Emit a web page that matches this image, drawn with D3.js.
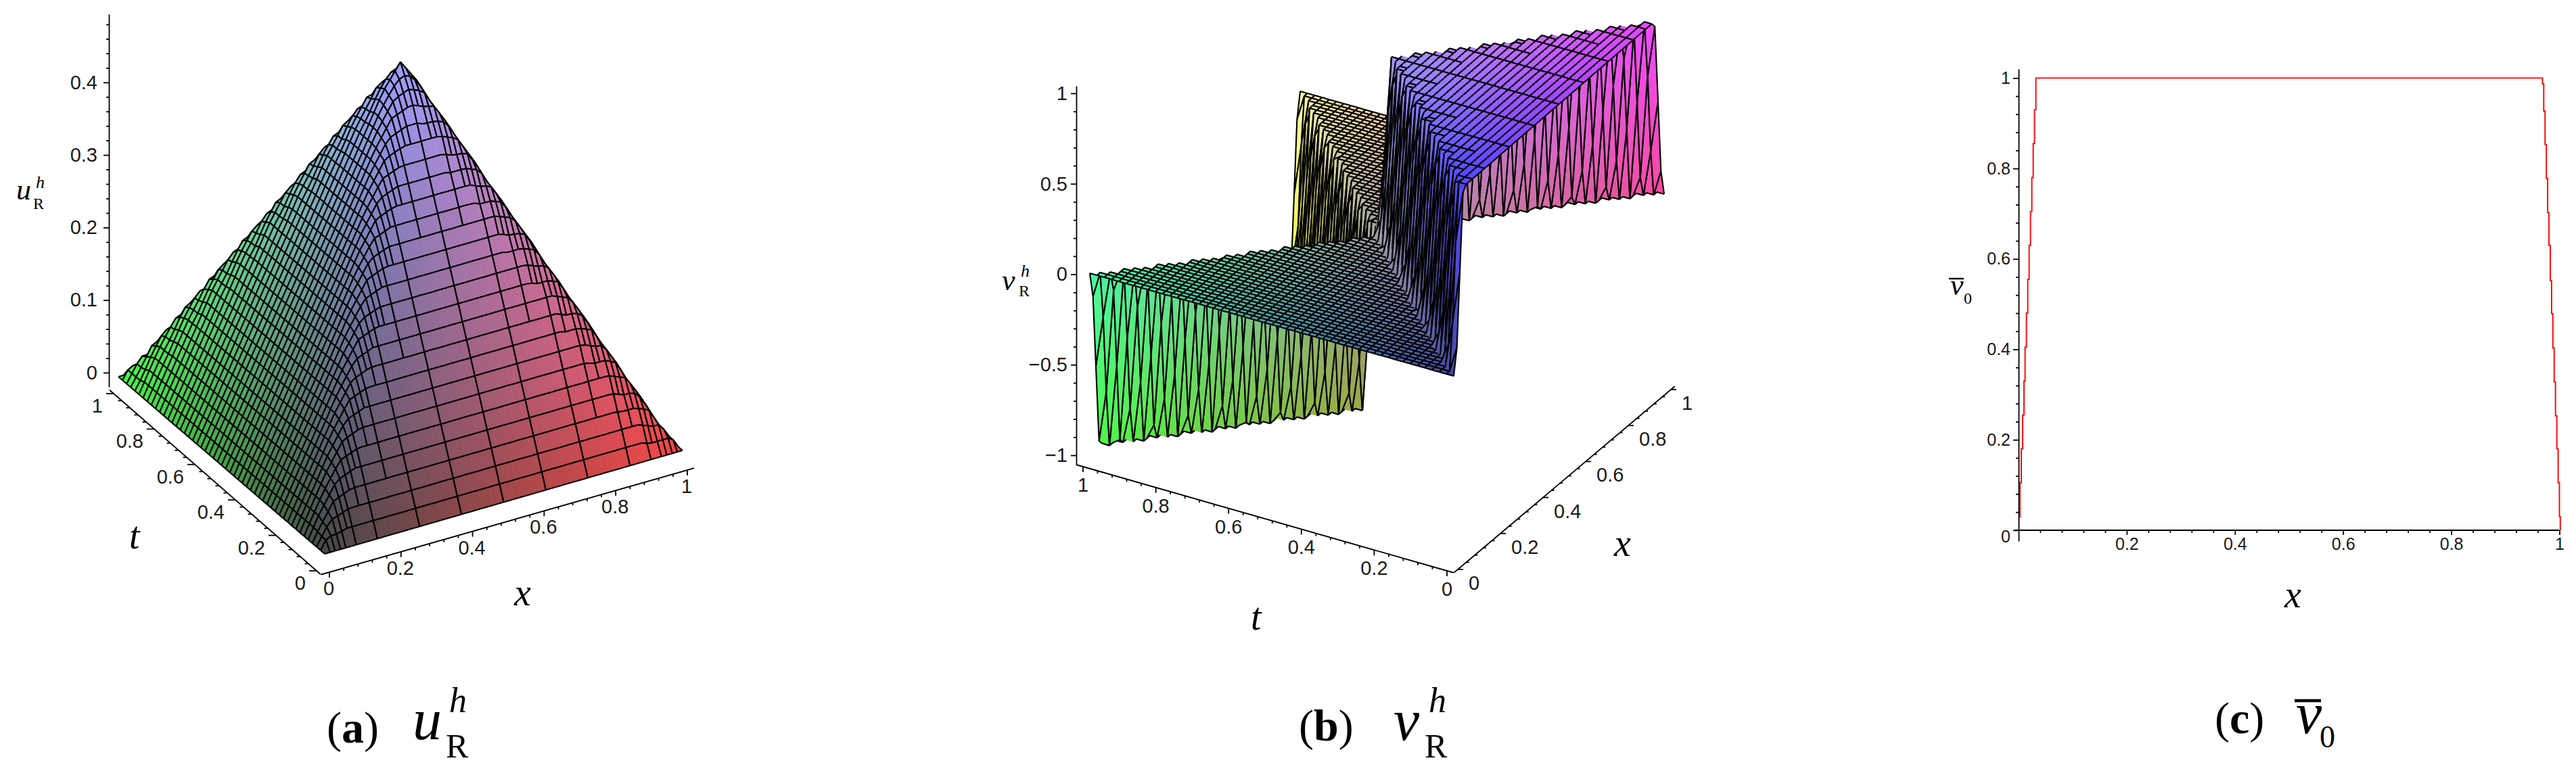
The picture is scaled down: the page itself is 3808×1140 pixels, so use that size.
<!DOCTYPE html>
<html>
<head>
<meta charset="utf-8">
<script src="https://d3js.org/d3.v7.min.js"></script>
<style>
  body { margin: 0; background: #fff; }
  svg { display: block; }
  .num { font-family: "Liberation Sans", sans-serif; font-size: 29px; fill: #1a1a1a; }
  .math { font-family: "Liberation Serif", serif; font-style: italic; fill: #000; }
  .rom { font-family: "Liberation Serif", serif; fill: #000; }
  .tick line, .domain { stroke: #000; stroke-width: 1.8; }
  .tick text { font-family: "Liberation Sans", sans-serif; font-size: 29px; fill: #1a1a1a; }
</style>
</head>
<body>
<svg id="fig" width="3808" height="1140"></svg>
<script>
// mesh levels shared by both surfaces
var xLevels = [0,.015,.029,.044,.059,.074,.088,.103,.118,.132,.147,.162,.176,.191,.206,.221,.235,.25,.265,.279,.294,.309,.324,.338,.353,.368,.382,.397,.412,.426,.441,.456,.471,.485,.5,.515,.529,.544,.559,.574,.588,.603,.618,.632,.647,.662,.676,.691,.706,.721,.735,.75,.765,.779,.794,.809,.824,.838,.853,.868,.882,.897,.912,.926,.941,.956,.971,.985,1];
var tLevels = [0,.02,.04,.06,.08,.1,.12,.14,.16,.18,.2,.22,.24,.26,.28,.3,.32,.34,.36,.38,.4,.42,.44,.46,.48,.5,.52,.54,.56,.58,.6,.62,.64,.66,.68,.7,.72,.74,.76,.78,.8,.82,.84,.86,.88,.9,.92,.94,.96,.98,1];

var uNodes = [0,.05,.1,.15,.2,.25,.3,.35,.4,.45,.5,.55,.6,.65,.7,.75,.8,.85,.9,.95,1];
var uRows = [
  [0,0,0,0,0,0,0,0,0,0,0,0,0,0,0,0,0,0,0,0,0],
  [0,.04,.05,.05,.05,.05,.05,.05,.05,.05,.05,.05,.05,.05,.05,.05,.05,.05,.05,.04,0],
  [0,.05,.09,.10,.10,.10,.10,.10,.10,.10,.10,.10,.10,.10,.10,.10,.10,.10,.09,.05,0],
  [0,.05,.10,.14,.15,.15,.15,.15,.15,.15,.15,.15,.15,.15,.15,.15,.15,.14,.10,.05,0],
  [0,.05,.10,.15,.19,.20,.20,.20,.20,.20,.20,.20,.20,.20,.20,.20,.19,.15,.10,.05,0],
  [0,.05,.10,.15,.20,.24,.25,.25,.25,.25,.25,.25,.25,.25,.25,.24,.20,.15,.10,.05,0],
  [0,.05,.10,.15,.20,.25,.29,.30,.30,.30,.30,.30,.30,.30,.29,.25,.20,.15,.10,.05,0],
  [0,.05,.10,.15,.20,.25,.30,.34,.35,.35,.35,.35,.35,.34,.30,.25,.20,.15,.10,.05,0],
  [0,.05,.10,.15,.20,.25,.30,.35,.39,.40,.40,.40,.39,.35,.30,.25,.20,.15,.10,.05,0],
  [0,.05,.10,.15,.20,.25,.30,.35,.40,.44,.45,.44,.40,.35,.30,.25,.20,.15,.10,.05,0],
  [0,.05,.10,.15,.20,.25,.30,.35,.40,.45,.485,.45,.40,.35,.30,.25,.20,.15,.10,.05,0],
  [0,.05,.10,.15,.20,.25,.30,.35,.40,.44,.45,.44,.40,.35,.30,.25,.20,.15,.10,.05,0],
  [0,.05,.10,.15,.20,.25,.30,.35,.39,.40,.40,.40,.39,.35,.30,.25,.20,.15,.10,.05,0],
  [0,.05,.10,.15,.20,.25,.30,.34,.35,.35,.35,.35,.35,.34,.30,.25,.20,.15,.10,.05,0],
  [0,.05,.10,.15,.20,.25,.29,.30,.30,.30,.30,.30,.30,.30,.29,.25,.20,.15,.10,.05,0],
  [0,.05,.10,.15,.20,.24,.25,.25,.25,.25,.25,.25,.25,.25,.25,.24,.20,.15,.10,.05,0],
  [0,.05,.10,.15,.19,.20,.20,.20,.20,.20,.20,.20,.20,.20,.20,.20,.19,.15,.10,.05,0],
  [0,.05,.10,.14,.15,.15,.15,.15,.15,.15,.15,.15,.15,.15,.15,.15,.15,.14,.10,.05,0],
  [0,.05,.09,.10,.10,.10,.10,.10,.10,.10,.10,.10,.10,.10,.10,.10,.10,.10,.09,.05,0],
  [0,.04,.05,.05,.05,.05,.05,.05,.05,.05,.05,.05,.05,.05,.05,.05,.05,.05,.05,.04,0],
  [0,0,0,0,0,0,0,0,0,0,0,0,0,0,0,0,0,0,0,0,0]
];

// panel b: v on each t level, the middle stretch of x sits at vMid, the rest at 0
var vMid = [1,1,1,1,1,1,1,1,1,1,1,1,1,1,1,1,1,1,1,1,1,1,1,1,.75,0,-.75,-1,-1,-1,-1,-1,-1,-1,-1,-1,-1,-1,-1,-1,-1,-1,-1,-1,-1,-1,-1,-1,-1,-1,-1];
var jumpL = [.01,.02,.04,.06,.08,.1,.12,.14,.16,.18,.2,.22,.24,.26,.28,.3,.32,.34,.36,.38,.4,.42,.44,.46,.48,.5,.48,.46,.44,.42,.4,.38,.36,.34,.32,.3,.28,.26,.24,.22,.2,.18,.16,.14,.12,.1,.08,.06,.04,.02,.01];
var jumpR = [.99,.98,.96,.94,.92,.9,.88,.86,.84,.82,.8,.78,.76,.74,.72,.7,.68,.66,.64,.62,.6,.58,.56,.54,.52,.5,.52,.54,.56,.58,.6,.62,.64,.66,.68,.7,.72,.74,.76,.78,.8,.82,.84,.86,.88,.9,.92,.94,.96,.98,.99];
var jumpRise = [0, .035];

// panel c: the line, stair by stair
var lineX = [.0025,.005,.0075,.01,.012,.0145,.017,.0195,.022,.0245,.027,.0295,.032,.9686,.971,.9734,.9758,.9782,.9807,.9831,.9855,.9879,.9903,.9927,.9952,.9976,1,1.0016,1.0016];
var lineY = [.028,.105,.18,.255,.33,.405,.48,.555,.63,.705,.78,.855,.93,1,.987,.927,.853,.778,.702,.63,.552,.479,.403,.328,.253,.18,.105,.03,0];

// ticks
var unitTicks = [0,.2,.4,.6,.8,1];
var unitMinor = [.04,.08,.12,.16,.24,.28,.32,.36,.44,.48,.52,.56,.64,.68,.72,.76,.84,.88,.92,.96];
var uTicks = [0,.1,.2,.3,.4];
var uMinor = [.02,.04,.06,.08,.12,.14,.16,.18,.22,.24,.26,.28,.32,.34,.36,.38,.42,.44,.46,.48];
var vTicks = [-1,-.5,0,.5,1];
var vMinor = [-.9,-.8,-.7,-.6,-.4,-.3,-.2,-.1,.1,.2,.3,.4,.6,.7,.8,.9];

var svg = d3.select("#fig");
svg.append("rect").attr("width", 3808).attr("height", 1140).attr("fill", "#fff");

function colorScales(zDomain) {
  var r = d3.scaleLinear([0, 1], [70, 248]);
  var g = d3.scaleLinear([0, 1], [70, 248]);
  var b = d3.scaleLinear(zDomain, [70, 255]).clamp(true);
  return function (x, t, z) {
    return d3.rgb(r(x), g(t), b(z)).formatHex();
  };
}

// x lines on the bottom and top sheets thin out away from the creases
function xLineShown(i, j) {
  var x = xLevels[i];
  var t = (tLevels[j] + tLevels[j + 1]) / 2;
  var s = Math.min(t, 1 - t);
  if (x < s || x > 1 - s) return true;
  var d = Math.min(x - s, 1 - s - x);
  var k = Math.abs(i - 34);
  var step = d < .05 ? 1 : d < .07 ? 2 : d < .146 ? 4 : 8;
  return k % step === 0 || i === 0 || i === xLevels.length - 1;
}

function drawSurface(g, proj, z, color, depth) {
  var cells = [];
  for (var j = 0; j < tLevels.length - 1; j++) {
    for (var i = 0; i < xLevels.length - 1; i++) {
      cells.push({ i: i, j: j, key: depth[0] * (xLevels[i] + xLevels[i + 1]) + depth[1] * (tLevels[j] + tLevels[j + 1]) });
    }
  }
  cells.sort(function (a, b) { return b.key - a.key; });

  var items = [];
  cells.forEach(function (c) {
    var i = c.i, j = c.j;
    var x0 = xLevels[i], x1 = xLevels[i + 1], t0 = tLevels[j], t1 = tLevels[j + 1];
    var z00 = z[j][i], z10 = z[j][i + 1], z01 = z[j + 1][i], z11 = z[j + 1][i + 1];
    var span = d3.max([z00, z10, z01, z11]) - d3.min([z00, z10, z01, z11]);
    var n = span > .2 ? 5 : 1;
    for (var a = 0; a < n; a++) {
      for (var b = 0; b < n; b++) {
        var pts = [[a, b], [a + 1, b], [a + 1, b + 1], [a, b + 1]].map(function (p) {
          var u = p[0] / n, w = p[1] / n;
          return [x0 + (x1 - x0) * u, t0 + (t1 - t0) * w,
            z00 * (1 - u) * (1 - w) + z10 * u * (1 - w) + z01 * (1 - u) * w + z11 * u * w];
        });
        var fill = color(d3.mean(pts, function (p) { return p[0]; }), d3.mean(pts, function (p) { return p[1]; }), d3.mean(pts, function (p) { return p[2]; }));
        items.push({ d: "M" + pts.map(function (p) { return proj(p[0], p[1], p[2]).join(","); }).join("L") + "Z", fill: fill, stroke: fill, w: .7 });
      }
    }
    var p00 = proj(x0, t0, z00).join(","), p10 = proj(x1, t0, z10).join(","), p01 = proj(x0, t1, z01).join(","), p11 = proj(x1, t1, z11).join(",");
    var d = "M" + p00 + "L" + p10 + "M" + p01 + "L" + p11;
    if (xLineShown(i, j)) d += "M" + p00 + "L" + p01;
    if (xLineShown(i + 1, j)) d += "M" + p10 + "L" + p11;
    items.push({ d: d, fill: "none", stroke: "#000", w: 2.1 });
  });

  g.selectAll("path").data(items).join("path")
    .attr("d", function (d) { return d.d; })
    .attr("fill", function (d) { return d.fill; })
    .attr("stroke", function (d) { return d.stroke; })
    .attr("stroke-width", function (d) { return d.w; });
}

// slanted axis of a 3d box
function slantAxis(g, sx, sy, ends, majors, minors, tick, labels) {
  g.append("line").attr("x1", sx(ends[0])).attr("y1", sy(ends[0])).attr("x2", sx(ends[1])).attr("y2", sy(ends[1]))
    .attr("stroke", "#000").attr("stroke-width", 1.9);
  g.selectAll(".minor").data(minors).join("line").attr("class", "minor")
    .attr("x1", sx).attr("y1", sy)
    .attr("x2", function (d) { return sx(d) + tick[0] * .5; })
    .attr("y2", function (d) { return sy(d) + tick[1] * .5; })
    .attr("stroke", "#000").attr("stroke-width", 1.8);
  g.selectAll(".major").data(majors).join("line").attr("class", "major")
    .attr("x1", sx).attr("y1", sy)
    .attr("x2", function (d) { return sx(d) + tick[0]; })
    .attr("y2", function (d) { return sy(d) + tick[1]; })
    .attr("stroke", "#000").attr("stroke-width", 1.8);
  g.selectAll(".num").data(majors).join("text").attr("class", "num")
    .attr("x", function (d) { return sx(d) + labels.dx; })
    .attr("y", function (d) { return sy(d) + labels.dy; })
    .attr("text-anchor", labels.anchor)
    .text(function (d) { return d3.format("~g")(d); });
}

function leftAxis(g, scale, x, majors, minors, padding) {
  var axis = g.append("g").attr("transform", "translate(" + x + ",0)");
  axis.call(d3.axisLeft(scale).tickValues(majors).tickSize(8).tickSizeOuter(0).tickPadding(padding)
    .tickFormat(function (d) { return d3.format("~g")(d).replace("-", "\u2212"); }));
  var small = g.append("g").attr("transform", "translate(" + x + ",0)");
  small.call(d3.axisLeft(scale).tickValues(minors).tickSize(4).tickSizeOuter(0).tickFormat(""));
  small.select(".domain").remove();
  return axis;
}

function mathText(g, x, y, size, s, cls) {
  return g.append("text").attr("class", cls || "math").attr("x", x).attr("y", y).attr("font-size", size).text(s);
}

function caption(g, x, y, letter) {
  var c = g.append("text").attr("class", "rom").attr("x", x).attr("y", y).attr("font-size", 66);
  c.append("tspan").text("(");
  c.append("tspan").attr("font-weight", "bold").text(letter);
  c.append("tspan").text(")");
}

// ---------- panel a
var aXx = d3.scaleLinear([0, 1], [480, 1009]), aTx = d3.scaleLinear([0, 1], [0, -305]);
var aXy = d3.scaleLinear([0, 1], [819, 666]), aTy = d3.scaleLinear([0, 1], [0, -262]);
var aZy = d3.scaleLinear([0, .5], [0, -536]);
function projA(x, t, z) {
  return [+(aXx(x) + aTx(t)).toFixed(1), +(aXy(x) + aTy(t) + aZy(z)).toFixed(1)];
}

// look up the table inside one triangle of its cell, so the creases stay straight
function uAt(x, t) {
  var i = Math.min(d3.bisectRight(uNodes, x) - 1, uNodes.length - 2);
  var j = Math.min(d3.bisectRight(uNodes, t) - 1, uNodes.length - 2);
  var a = (x - uNodes[i]) / (uNodes[i + 1] - uNodes[i]);
  var b = (t - uNodes[j]) / (uNodes[j + 1] - uNodes[j]);
  var u00 = uRows[j][i], u10 = uRows[j][i + 1], u01 = uRows[j + 1][i], u11 = uRows[j + 1][i + 1];
  if (i + j === uNodes.length - 2) {
    if (a + b < 1) return u00 + a * (u10 - u00) + b * (u01 - u00);
    return u11 + (1 - a) * (u01 - u11) + (1 - b) * (u10 - u11);
  }
  if (a > b) return u00 + a * (u10 - u00) + b * (u11 - u10);
  return u00 + b * (u01 - u00) + a * (u11 - u01);
}
var uMesh = tLevels.map(function (t) {
  return xLevels.map(function (x) { return uAt(x, t); });
});

var a = svg.append("g").attr("id", "panel-a");
drawSurface(a.append("g"), projA, uMesh, colorScales([0, .49]), [153, 262]);

var azScale = d3.scaleLinear([-.0196, .494], [572, 21]);
leftAxis(a, azScale, 161, uTicks, uMinor, 9);
slantAxis(a.append("g"), d3.scaleLinear([0, 1], [468, 168]), d3.scaleLinear([0, 1], [844, 582]), [-.02, 1.02], unitTicks, unitMinor, [-11, 0], { dx: -16, dy: 28, anchor: "end" });
slantAxis(a.append("g"), d3.scaleLinear([0, 1], [487, 1016]), d3.scaleLinear([0, 1], [846, 695]), [-.023, 1.019], unitTicks, unitMinor, [0, 8], { dx: -1, dy: 34, anchor: "middle" });

mathText(a, 191, 811, 56, "t");
mathText(a, 760, 895, 56, "x");
mathText(a, 24, 295, 44, "u");
mathText(a, 53, 278, 26, "h");
mathText(a, 49, 309, 24, "R", "rom");
caption(a, 483, 1098, "a");
mathText(a, 610, 1093, 86, "u");
mathText(a, 664, 1053, 52, "h");
mathText(a, 659, 1120, 50, "R", "rom");

// ---------- panel b
var bXx = d3.scaleLinear([0, 1], [2149, 2460]), bTx = d3.scaleLinear([0, 1], [0, -538]);
var bXy = d3.scaleLinear([0, 1], [556, 287]), bTy = d3.scaleLinear([0, 1], [0, -152]);
var bZy = d3.scaleLinear([-1, 1], [267.5, -267.5]);
function projB(x, t, z) {
  return [+(bXx(x) + bTx(t)).toFixed(1), +(bXy(x) + bTy(t) + bZy(z)).toFixed(1)];
}
// each jump climbs over a narrow band of x
var rise = d3.scaleLinear(jumpRise, [0, 1]).clamp(true);
var vMesh = tLevels.map(function (t, j) {
  return xLevels.map(function (x) { return vMid[j] * rise(Math.min(x - jumpL[j], jumpR[j] - x)); });
});

var b = svg.append("g").attr("id", "panel-b");
drawSurface(b.append("g"), projB, vMesh, colorScales([-1, 1]), [269, 152]);

var bzScale = d3.scaleLinear([-1.052, 1.041], [687, 127]);
leftAxis(b, bzScale, 1591, vTicks, vMinor, 5);
slantAxis(b.append("g"), d3.scaleLinear([0, 1], [2139, 1601]), d3.scaleLinear([0, 1], [844, 690]), [-.018, 1.018], unitTicks, unitMinor, [0, 8], { dx: 0, dy: 37, anchor: "middle" });
slantAxis(b.append("g"), d3.scaleLinear([0, 1], [2155, 2470]), d3.scaleLinear([0, 1], [842, 576]), [-.018, 1.018], unitTicks, unitMinor, [8, 0], { dx: 16, dy: 30, anchor: "start" });

mathText(b, 1849, 931, 56, "t");
mathText(b, 2386, 822, 56, "x");
mathText(b, 1481, 429, 44, "v");
mathText(b, 1509, 409, 26, "h");
mathText(b, 1506, 438, 24, "R", "rom");
caption(b, 1920, 1095, "b");
mathText(b, 2060, 1094, 86, "v");
mathText(b, 2112, 1053, 52, "h");
mathText(b, 2106, 1120, 50, "R", "rom");

// ---------- panel c
var c = svg.append("g").attr("id", "panel-c");
var cx = d3.scaleLinear([0, 1], [2984, 3783.5]);
var cy = d3.scaleLinear([-.024, 1.02], [800, 102]);

c.append("path").datum(d3.zip(lineX, lineY))
  .attr("fill", "none").attr("stroke", "#f00").attr("stroke-width", 1.9)
  .attr("d", d3.line().x(function (d) { return cx(d[0]); }).y(function (d) { return cy(d[1]); }).curve(d3.curveStepBefore));

var cLeft = leftAxis(c, cy, 2984, unitTicks, unitMinor, 4);
cLeft.selectAll(".tick text").style("font-size", "25px")
  .attr("dy", function (d) { return d === 0 ? "0.72em" : "0.32em"; });
var cBottom = c.append("g").attr("transform", "translate(0," + cy(0) + ")");
cBottom.append("line").attr("x1", 2978).attr("x2", 3783.5).attr("y1", 0).attr("y2", 0).attr("stroke", "#000").attr("stroke-width", 1.9);
var cTicks = cBottom.append("g");
cTicks.call(d3.axisBottom(cx).tickValues(unitTicks.slice(1)).tickSize(7).tickSizeOuter(0).tickPadding(4).tickFormat(d3.format("~g")));
cTicks.select(".domain").remove();
cTicks.selectAll(".tick text").style("font-size", "25px");
var cSmall = cBottom.append("g");
cSmall.call(d3.axisBottom(cx).tickValues(unitMinor).tickSize(4).tickSizeOuter(0).tickFormat(""));
cSmall.select(".domain").remove();

mathText(c, 3377, 898, 56, "x");
mathText(c, 2883, 436, 44, "v");
c.append("line").attr("x1", 2881).attr("x2", 2903).attr("y1", 412).attr("y2", 412).attr("stroke", "#000").attr("stroke-width", 2.4);
mathText(c, 2903, 449, 24, "0", "rom");
caption(c, 3274, 1084, "c");
mathText(c, 3394, 1084, 86, "v");
c.append("line").attr("x1", 3392).attr("x2", 3431).attr("y1", 1036).attr("y2", 1036).attr("stroke", "#000").attr("stroke-width", 4.5);
mathText(c, 3429, 1105, 46, "0", "rom");
</script>
</body>
</html>
